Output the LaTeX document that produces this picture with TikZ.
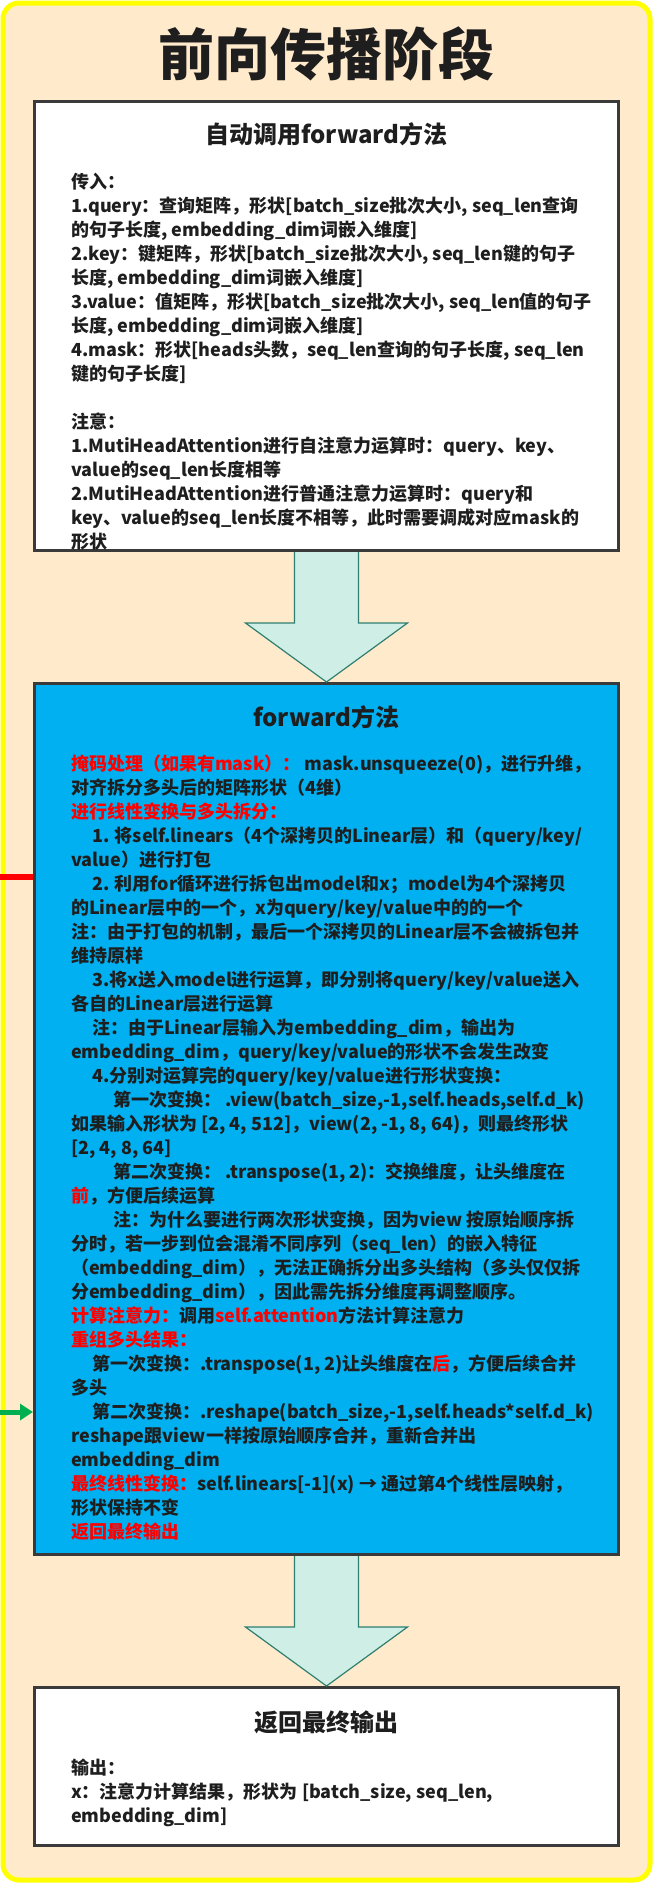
\documentclass[tikz,border=0pt]{standalone}
\usepackage{fontspec}
\setmainfont{Noto Sans CJK SC}
\usepackage{xcolor}
\usepackage{tikz}
\usetikzlibrary{calc,arrows.meta}

\definecolor{bgcream}{HTML}{FFEACC}
\definecolor{rimyellow}{HTML}{FFFF00}
\definecolor{boxblue}{HTML}{00B0F0}
\definecolor{edgegray}{HTML}{3A3A3A}
\definecolor{inkgray}{HTML}{1E1E1E}
\definecolor{arrowfill}{HTML}{CFEFE6}
\definecolor{arrowedge}{HTML}{2F7F70}
\definecolor{hotred}{HTML}{FF0000}
\definecolor{markgreen}{HTML}{00B050}

\newcommand{\redtxt}[1]{\textcolor{hotred}{#1}}

\begin{document}
\begin{tikzpicture}[x=1pt,y=-1pt,
  panel/.style={draw=edgegray,line width=3pt,minimum width=584pt,anchor=north,inner sep=0pt},
  heading/.style={font=\fontsize{24pt}{28pt}\selectfont\bfseries,text=inkgray},
  body/.style={font=\fontsize{18pt}{24pt}\selectfont\bfseries,text=inkgray,align=left,anchor=north west,inner sep=0pt},
  bigarrow/.style={draw=arrowedge,fill=arrowfill,line width=1.2pt}]
\useasboundingbox (0,0) rectangle (653,1883);
\draw[rimyellow,line width=5pt,fill=bgcream,rounded corners=16pt] (3,3) rectangle (650,1880);

\node[font=\fontsize{56pt}{60pt}\selectfont\bfseries,text=inkgray] (title) at (326.5,54) {前向传播阶段};

\node[panel,fill=white,minimum height=449pt]   (in)  at (326.5,100)  {};
\node[panel,fill=boxblue,minimum height=871pt] (fw)  at (326.5,682)  {};
\node[panel,fill=white,minimum height=158pt]   (out) at (326.5,1686) {};

\node[heading] (inhead)  at ($(in.north)+(0,34)$)  {自动调用forward方法};
\node[heading] (fwhead)  at ($(fw.north)+(0,35)$)  {forward方法};
\node[heading] (outhead) at ($(out.north)+(0,36)$) {返回最终输出};

\node[body] (inbody) at ($(in.north west)+(38,73)$) {传入：\\
1.query：查询矩阵，形状[batch\_size批次大小, seq\_len查询\\
的句子长度, embedding\_dim词嵌入维度]\\
2.key：键矩阵，形状[batch\_size批次大小, seq\_len键的句子\\
长度, embedding\_dim词嵌入维度]\\
3.value：值矩阵，形状[batch\_size批次大小, seq\_len值的句子\\
长度, embedding\_dim词嵌入维度]\\
4.mask：形状[heads头数，seq\_len查询的句子长度, seq\_len\\
键的句子长度]\\[24pt]
注意：\\
1.MutiHeadAttention进行自注意力运算时：query、key、\\
value的seq\_len长度相等\\
2.MutiHeadAttention进行普通注意力运算时：query和\\
key、value的seq\_len长度不相等，此时需要调成对应mask的\\
形状};

\node[body] (fwbody) at ($(fw.north west)+(38,73)$) {\redtxt{掩码处理（如果有mask）：} mask.unsqueeze(0)，进行升维，\\
对齐拆分多头后的矩阵形状（4维）\\
\redtxt{进行线性变换与多头拆分：}\\
\hspace*{21pt}1. 将self.linears（4个深拷贝的Linear层）和（query/key/\\
value）进行打包\\
\hspace*{21pt}2. 利用for循环进行拆包出model和x；model为4个深拷贝\\
的Linear层中的一个，x为query/key/value中的的一个\\
注：由于打包的机制，最后一个深拷贝的Linear层不会被拆包并\\
维持原样\\
\hspace*{21pt}3.将x送入model进行运算，即分别将query/key/value送入\\
各自的Linear层进行运算\\
\hspace*{21pt}注：由于Linear层输入为embedding\_dim，输出为\\
embedding\_dim，query/key/value的形状不会发生改变\\
\hspace*{21pt}4.分别对运算完的query/key/value进行形状变换：\\
\hspace*{42pt}第一次变换： .view(batch\_size,-1,self.heads,self.d\_k)\\
如果输入形状为 [2, 4, 512]，view(2, -1, 8, 64)，则最终形状\\
{}[2, 4, 8, 64]\\
\hspace*{42pt}第二次变换： .transpose(1, 2)：交换维度，让头维度在\\
\redtxt{前}，方便后续运算\\
\hspace*{42pt}注：为什么要进行两次形状变换，因为view 按原始顺序拆\\
分时，若一步到位会混淆不同序列（seq\_len）的嵌入特征\\
（embedding\_dim），无法正确拆分出多头结构（多头仅仅拆\\
分embedding\_dim），因此需先拆分维度再调整顺序。\\
\redtxt{计算注意力：}调用\redtxt{self.attention}方法计算注意力\\
\redtxt{重组多头结果：}\\
\hspace*{21pt}第一次变换：.transpose(1, 2)让头维度在\redtxt{后}，方便后续合并\\
多头\\
\hspace*{21pt}第二次变换：.reshape(batch\_size,-1,self.heads*self.d\_k)\\
reshape跟view一样按原始顺序合并，重新合并出\\
embedding\_dim\\
\redtxt{最终线性变换：}self.linears[-1](x) → 通过第4个线性层映射，\\
形状保持不变\\
\redtxt{返回最终输出}};

\node[body] (outbody) at ($(out.north west)+(38,73)$) {输出：\\
x：注意力计算结果，形状为 [batch\_size, seq\_len,\\
embedding\_dim]};

\foreach \a/\b in {in/fw,fw/out}
  \draw[bigarrow] ($(\a.south)+(-32,0)$) -- ++(0,71) -- ++(-49,0) -- (\b.north)
    -- ($(\a.south)+(81,71)$) -- ++(-49,0) -- ++(0,-71);

\coordinate (redmark) at (0,877);
\coordinate (greenmark) at (0,1412);
\draw[hotred,line width=6pt] (redmark) -- (redmark -| fw.west);
\draw[markgreen,line width=5pt,-{Triangle[length=13pt,width=16pt]}] (greenmark) -- (greenmark -| fw.west);
\end{tikzpicture}
\end{document}
